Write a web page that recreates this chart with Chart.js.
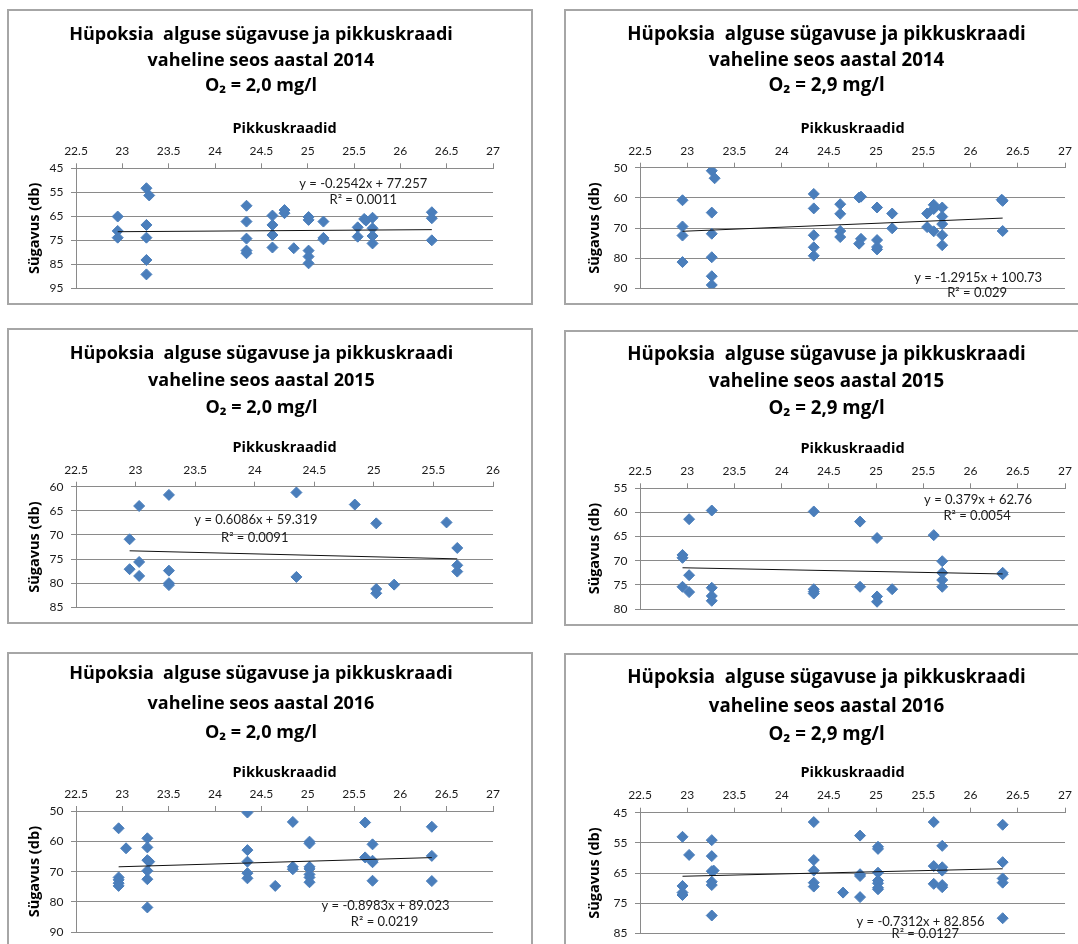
<!DOCTYPE html>
<html><head><meta charset="utf-8">
<script src="https://cdn.jsdelivr.net/npm/chart.js@4.4.1/dist/chart.umd.min.js"></script>
<style>
html,body{margin:0;padding:0;background:#fff;overflow:hidden;width:1078px;height:944px;}
.panel{position:absolute;border:2px solid #a6a6a6;box-sizing:border-box;background:#fff;overflow:hidden;}
.panel canvas{position:absolute;left:0;top:0;}
</style></head><body>
<div class="panel" style="left:7px;top:9px;width:526px;height:296px"><canvas id="c1" width="522" height="292"></canvas></div>
<div class="panel" style="left:564px;top:9px;width:530px;height:296px"><canvas id="c2" width="526" height="292"></canvas></div>
<div class="panel" style="left:7px;top:328px;width:526px;height:296px"><canvas id="c3" width="522" height="292"></canvas></div>
<div class="panel" style="left:564px;top:330px;width:530px;height:296px"><canvas id="c4" width="526" height="292"></canvas></div>
<div class="panel" style="left:7px;top:652px;width:526px;height:300px"><canvas id="c5" width="522" height="296"></canvas></div>
<div class="panel" style="left:564px;top:653px;width:530px;height:300px"><canvas id="c6" width="526" height="296"></canvas></div>
<script>
// ---------- tick labels ----------
const xTicksWide   = [22.5, 23, 23.5, 24, 24.5, 25, 25.5, 26, 26.5, 27];
const xTicksNarrow = [22.5, 23, 23.5, 24, 24.5, 25, 25.5, 26];
const yTicks2014a = [45, 55, 65, 75, 85, 95];
const yTicks2014b = [50, 60, 70, 80, 90];
const yTicks2015a = [60, 65, 70, 75, 80, 85];
const yTicks2015b = [55, 60, 65, 70, 75, 80];
const yTicks2016a = [50, 60, 70, 80, 90];
const yTicks2016b = [45, 55, 65, 75, 85];

// ---------- titles / labels ----------
const titleLine1 = 'Hüpoksia  alguse sügavuse ja pikkuskraadi';
const years = ['2014', '2014', '2015', '2015', '2016', '2016'];
const oxygen = ['2,0', '2,9', '2,0', '2,9', '2,0', '2,9'];
const xAxisTitle = 'Pikkuskraadid';
const yAxisTitle = 'Sügavus (db)';
const eqTexts = ['y = -0.2542x + 77.257', 'y = -1.2915x + 100.73', 'y = 0.6086x + 59.319',
                 'y = 0.379x + 62.76', 'y = -0.8983x + 89.023', 'y = -0.7312x + 82.856'];
const r2Texts = ['R² = 0.0011', 'R² = 0.029', 'R² = 0.0091', 'R² = 0.0054', 'R² = 0.0219', 'R² = 0.0127'];

// ---------- 2014, O2 = 2,0 ----------
const lon14a = [22.95,22.95,22.95, 23.26,23.29,23.26,23.26,23.26,23.26, 24.34,24.34,24.34,24.34,24.34,
  24.62,24.62,24.62,24.62, 24.75,24.75, 24.85, 25.01,25.01,25.01,25.01,25.01, 25.17,25.17,25.17,
  25.54,25.54, 25.61,25.63, 25.70,25.70,25.70,25.70, 26.34,26.34,26.34];
const dep14a = [65.1,71.1,73.9, 53.3,56.3,68.6,73.9,83.2,89.2, 60.6,67.2,74.3,79.3,80.4,
  64.7,68.6,72.8,78.0, 62.4,63.7, 78.3, 65.3,66.5,79.3,81.8,84.6, 67.2,74.0,74.6,
  69.6,73.5, 66.1,66.8, 65.6,70.0,73.2,76.3, 63.3,65.8,75.0];
const trend14aX = [22.95, 26.34];
const trend14aY = [71.42, 70.56];

// ---------- 2014, O2 = 2,9 ----------
const lon14b = [22.95,22.95,22.95,22.95, 23.26,23.29,23.26,23.26,23.26,23.26,23.26,
  24.34,24.34,24.34,24.34,24.34, 24.62,24.62,24.62,24.62, 24.84,24.82,24.84,24.82,
  25.01,25.01,25.01,25.01, 25.17,25.17, 25.54,25.54, 25.61,25.61,25.61,
  25.70,25.70,25.70,25.70,25.70, 26.34,26.33,26.34];
const dep14b = [60.8,69.5,72.5,81.3, 51.0,53.5,64.9,71.9,79.7,86.0,88.9,
  58.7,63.5,72.4,76.4,79.2, 62.1,65.3,71.0,73.0, 59.6,59.9,73.6,75.2,
  63.2,74.0,76.3,77.1, 65.2,70.1, 65.2,69.7, 62.3,63.7,71.1,
  63.2,66.2,68.7,72.4,75.7, 61.0,60.6,71.0];
const trend14bX = [22.95, 26.34];
const trend14bY = [71.09, 66.71];

// ---------- 2015, O2 = 2,0 ----------
const lon15a = [22.95,22.95, 23.03,23.03,23.03, 23.28,23.28,23.28,23.28, 24.35,24.35, 24.84,
  25.02,25.02,25.02, 25.17, 25.61, 25.70,25.70,25.70];
const dep15a = [70.9,77.1, 64.0,75.6,78.5, 61.7,77.4,80.0,80.4, 61.2,78.7, 63.7,
  67.6,81.2,82.1, 80.3, 67.4, 72.7,76.3,77.6];
const trend15aX = [22.95, 25.70];
const trend15aY = [73.29, 74.96];

// ---------- 2015, O2 = 2,9 ----------
const lon15b = [22.95,22.95,22.95, 23.02,23.02,23.02, 23.26,23.26,23.26,23.26,
  24.34,24.34,24.34,24.34, 24.83,24.83, 25.01,25.01,25.01, 25.17, 25.61,
  25.70,25.70,25.70,25.70, 26.34,26.34];
const dep15b = [68.8,69.4,75.4, 61.4,73.0,76.5, 59.6,75.6,77.3,78.3,
  59.8,75.9,76.4,76.8, 61.9,75.4, 65.3,77.4,78.5, 75.9, 64.7,
  70.1,72.5,74.0,75.4, 72.5,72.8];
const trend15bX = [22.95, 26.34];
const trend15bY = [71.46, 72.74];

// ---------- 2016, O2 = 2,0 ----------
const lon16a = [22.96,22.96,22.96,22.96,22.96, 23.04, 23.27,23.27,23.27,23.27,23.27,23.27,23.29,
  24.35,24.35,24.35,24.35,24.35, 24.65, 24.84,24.84,24.84,
  25.02,25.02,25.02,25.02,25.02,25.02,25.02, 25.62,25.62, 25.70,25.70,25.70,25.70,
  26.34,26.34,26.34];
const dep16a = [55.7,71.9,72.7,73.8,74.7, 62.3, 59.0,62.0,66.2,69.7,72.5,81.8,66.7,
  50.5,62.9,66.7,70.5,72.2, 74.7, 53.6,68.4,69.2,
  60.1,60.7,68.4,69.1,70.9,71.9,73.5, 53.8,65.3, 61.0,66.4,66.9,73.0,
  55.2,64.8,73.1];
const trend16aX = [22.96, 26.34];
const trend16aY = [68.40, 65.36];

// ---------- 2016, O2 = 2,9 ----------
const lon16b = [22.95,22.95,22.95,22.95, 23.02, 23.26,23.26,23.26,23.26,23.26,23.26,23.28,
  24.34,24.34,24.34,24.34,24.34, 24.65, 24.83,24.83,24.83,24.83,
  25.02,25.02,25.02,25.02,25.02,25.02,25.02, 25.61,25.61,25.61,
  25.70,25.70,25.70,25.70,25.70, 26.34,26.34,26.34,26.34,26.34];
const dep16b = [53.0,69.3,71.5,72.3, 59.0, 54.1,59.4,64.4,67.9,69.0,79.1,64.2,
  48.1,60.7,64.2,68.2,69.5, 71.5, 52.6,65.4,66.0,73.0,
  56.3,57.0,64.9,67.5,68.4,69.9,70.4, 48.1,62.7,68.6,
  56.0,63.1,64.2,69.0,69.7, 49.0,61.4,66.8,68.2,80.0];
const trend16bX = [22.95, 26.34];
const trend16bY = [66.08, 63.60];

// ---------- panel definitions ----------
const panels = [
  {canvas:'c1', xs:lon14a, ys:dep14a, tx:trend14aX, ty:trend14aY, xTicks:xTicksWide, yTicks:yTicks2014a,
   lay:{W:522,H:292,L:67,R:484,T:157.3,B:277.3,tcx:252,ty0:24,tlh:25.5,ts:18,axY:118,tickY:140,yTx:26},
   eqPos:[25.6,51.5], r2Pos:[25.6,58.2]},
  {canvas:'c2', xs:lon14b, ys:dep14b, tx:trend14bX, ty:trend14bY, xTicks:xTicksWide, yTicks:yTicks2014b,
   lay:{W:526,H:292,L:74,R:499,T:156.7,B:278,tcx:260.5,ty0:24,tlh:25.5,ts:18.7,axY:118.3,tickY:140,yTx:29},
   eqPos:[26.08,86.4], r2Pos:[26.07,91.4]},
  {canvas:'c3', xs:lon15a, ys:dep15a, tx:trend15aX, ty:trend15aY, xTicks:xTicksNarrow, yTicks:yTicks2015a,
   lay:{W:522,H:292,L:67,R:484,T:156.7,B:277.7,tcx:252.5,ty0:23.5,tlh:27,ts:18,axY:118.3,tickY:140,yTx:26},
   eqPos:[24.01,66.9], r2Pos:[24.0,70.5]},
  {canvas:'c4', xs:lon15b, ys:dep15b, tx:trend15bX, ty:trend15bY, xTicks:xTicksWide, yTicks:yTicks2015b,
   lay:{W:526,H:292,L:74,R:499,T:156.3,B:277,tcx:260.5,ty0:23,tlh:27,ts:18.7,axY:117.3,tickY:139,yTx:29},
   eqPos:[26.08,57.4], r2Pos:[26.07,60.7]},
  {canvas:'c5', xs:lon16a, ys:dep16a, tx:trend16aX, ty:trend16aY, xTicks:xTicksWide, yTicks:yTicks2016a,
   lay:{W:522,H:296,L:67,R:484,T:157,B:278.3,tcx:252,ty0:20,tlh:29.5,ts:18,axY:118.7,tickY:140,yTx:26},
   eqPos:[25.84,81.25], r2Pos:[25.83,86.5]},
  {canvas:'c6', xs:lon16b, ys:dep16b, tx:trend16bX, ty:trend16bY, xTicks:xTicksWide, yTicks:yTicks2016b,
   lay:{W:526,H:296,L:74,R:499,T:157.7,B:278.3,tcx:260.5,ty0:23,tlh:28.5,ts:18.7,axY:118,tickY:140,yTx:29},
   eqPos:[25.47,81.3], r2Pos:[25.52,85.3]}
];

const FONT = 'Lato, "Open Sans", sans-serif';
const HFONT = '"Open Sans", Lato, sans-serif';
const GRID = '#8a8a8a';
const TEXT = '#1a1a1a';

const eqPlugin = {
  id: 'eqLabels',
  afterDatasetsDraw(chart, args, opts) {
    const {ctx} = chart;
    const xs = chart.scales.x, ys = chart.scales.y;
    ctx.save();
    ctx.font = '13px ' + FONT;
    ctx.fillStyle = TEXT;
    ctx.textAlign = 'center';
    ctx.textBaseline = 'middle';
    for (const it of opts.items) {
      ctx.fillText(it.text, xs.getPixelForValue(it.pos[0]), ys.getPixelForValue(it.pos[1]));
    }
    ctx.restore();
  }
};

function build(p, i) {
  const L = p.lay;
  const padR = L.W - L.R;
  const padL = 2 * L.tcx - L.R;
  const yWidth = L.L - padL;
  const titlePadTop = L.ty0 - L.tlh / 2;
  const titleH = titlePadTop + 3 * L.tlh;
  const axSize = 14.5;
  const axLh = axSize * 1.2;
  const axPadTop = L.axY - titleH - axLh / 2;
  const xHeight = L.T - titleH;
  const tickLh = 12 * 1.2;
  const xTickPad = Math.max(0, L.T - L.tickY - tickLh / 2 - 5);
  const yTitlePad = L.yTx - padL - axLh / 2;

  const pts = p.xs.map((x, k) => ({x: x, y: p.ys[k]}));
  const trend = p.tx.map((x, k) => ({x: x, y: p.ty[k]}));

  new Chart(document.getElementById(p.canvas), {
    type: 'scatter',
    data: {
      datasets: [
        {type: 'line', data: trend, borderColor: '#111', borderWidth: 1, pointRadius: 0, fill: false, tension: 0},
        {data: pts, pointStyle: 'rectRot', pointRadius: 5.5, backgroundColor: '#4a7ebb', borderColor: '#4a7ebb', borderWidth: 1}
      ]
    },
    options: {
      responsive: false,
      animation: false,
      devicePixelRatio: 1,
      layout: {padding: {left: padL, right: padR, top: 0, bottom: L.H - L.B}},
      plugins: {
        legend: {display: false},
        tooltip: {enabled: false},
        title: {
          display: true,
          text: [titleLine1, 'vaheline seos aastal ' + years[i], 'O₂ = ' + oxygen[i] + ' mg/l'],
          color: '#000',
          font: {family: HFONT, size: L.ts, weight: 'bold', lineHeight: L.tlh + 'px'},
          padding: {top: titlePadTop, bottom: 0}
        },
        eqLabels: {items: [{text: eqTexts[i], pos: p.eqPos}, {text: r2Texts[i], pos: p.r2Pos}]}
      },
      scales: {
        x: {
          type: 'linear', position: 'top',
          min: p.xTicks[0], max: p.xTicks[p.xTicks.length - 1],
          afterBuildTicks: s => { s.ticks = p.xTicks.map(v => ({value: v})); },
          afterFit: s => { s.height = xHeight; },
          ticks: {font: {family: FONT, size: 12}, color: TEXT, padding: xTickPad, maxRotation: 0, autoSkip: false,
                  callback: v => String(v)},
          grid: {drawOnChartArea: false, drawTicks: true, tickLength: 5, color: GRID},
          border: {display: true, color: GRID},
          title: {display: true, text: xAxisTitle, color: '#000',
                  font: {family: HFONT, size: axSize, weight: 'bold', lineHeight: 1.2},
                  padding: {top: axPadTop, bottom: 0}}
        },
        y: {
          type: 'linear', position: 'left', reverse: true,
          min: p.yTicks[0], max: p.yTicks[p.yTicks.length - 1],
          afterBuildTicks: s => { s.ticks = p.yTicks.map(v => ({value: v})); },
          afterFit: s => { s.width = yWidth; },
          ticks: {font: {family: FONT, size: 12}, color: TEXT, padding: 7.5, callback: v => String(v)},
          grid: {drawOnChartArea: true, drawTicks: true, tickLength: 5, color: GRID},
          border: {display: true, color: GRID},
          title: {display: true, text: yAxisTitle, color: '#000',
                  font: {family: HFONT, size: axSize, weight: 'bold', lineHeight: 1.2},
                  padding: {top: yTitlePad, bottom: 0}}
        }
      }
    },
    plugins: [eqPlugin]
  });
}

function drawAll() { panels.forEach(build); }
if (document.fonts && document.fonts.load) {
  Promise.all([document.fonts.load('bold 18px "Open Sans"'), document.fonts.load('bold 14px "Open Sans"'),
               document.fonts.load('12px Lato')])
    .then(drawAll, drawAll);
} else { drawAll(); }
</script>
</body></html>
